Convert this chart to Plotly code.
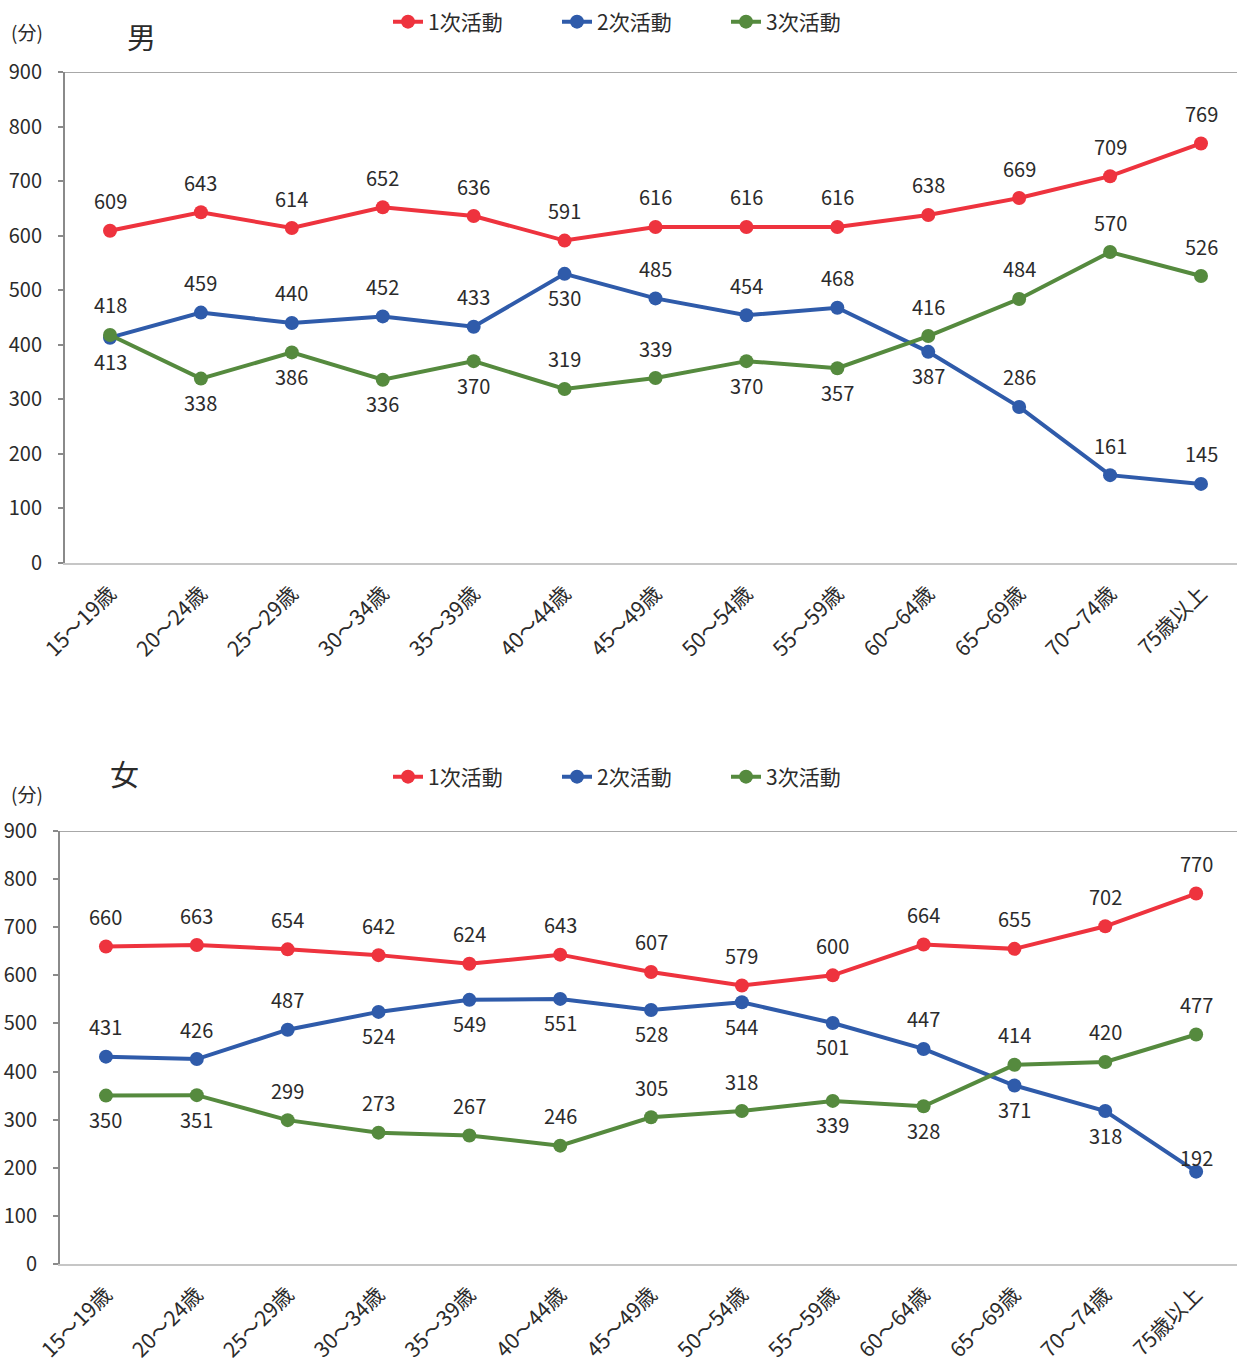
import plotly.graph_objects as go

# Age groups (category axis)
age_groups = ["15〜19歳", "20〜24歳", "25〜29歳", "30〜34歳", "35〜39歳", "40〜44歳",
              "45〜49歳", "50〜54歳", "55〜59歳", "60〜64歳", "65〜69歳", "70〜74歳", "75歳以上"]

series_names = ["1次活動", "2次活動", "3次活動"]

# Minutes per day, male
male_primary = [609, 643, 614, 652, 636, 591, 616, 616, 616, 638, 669, 709, 769]
male_secondary = [413, 459, 440, 452, 433, 530, 485, 454, 468, 387, 286, 161, 145]
male_tertiary = [418, 338, 386, 336, 370, 319, 339, 370, 357, 416, 484, 570, 526]

# Minutes per day, female
female_primary = [660, 663, 654, 642, 624, 643, 607, 579, 600, 664, 655, 702, 770]
female_secondary = [431, 426, 487, 524, 549, 551, 528, 544, 501, 447, 371, 318, 192]
female_tertiary = [350, 351, 299, 273, 267, 246, 305, 318, 339, 328, 414, 420, 477]

y_ticks = [0, 100, 200, 300, 400, 500, 600, 700, 800, 900]

# Label placement per point: "u" = above the marker, "d" = below, "c" = just above
male_sides = [
    ["u"] * 13,
    ["d", "u", "u", "u", "u", "d", "u", "u", "u", "d", "u", "u", "u"],
    ["u", "d", "d", "d", "d", "u", "u", "d", "d", "u", "u", "u", "u"],
]
female_sides = [
    ["u"] * 13,
    ["u", "u", "u", "d", "d", "d", "d", "d", "d", "u", "d", "d", "c"],
    ["d", "d", "u", "u", "u", "u", "u", "u", "d", "d", "u", "u", "u"],
]

colors = ["#EE333E", "#2F5BAA", "#558A3E"]
text_color = "#2b2b2b"
FONT = "Noto Sans CJK JP, Noto Sans, sans-serif"

W, H = 1237, 1362

fig = go.Figure()

panels = [
    dict(data=[male_primary, male_secondary, male_tertiary], sides=male_sides,
         xa="x", ya="y", legend="legend"),
    dict(data=[female_primary, female_secondary, female_tertiary], sides=female_sides,
         xa="x2", ya="y2", legend="legend2"),
]

shift_for = {"u": 30, "d": -24, "c": 14}
annotations = []
for p in panels:
    for name, vals, sides, color in zip(series_names, p["data"], p["sides"], colors):
        fig.add_trace(go.Scatter(
            x=age_groups, y=vals, name=name, mode="lines+markers",
            line=dict(color=color, width=4),
            marker=dict(color=color, size=14),
            xaxis=p["xa"], yaxis=p["ya"], legend=p["legend"],
            hoverinfo="x+y+name",
        ))
        for a, v, s in zip(age_groups, vals, sides):
            annotations.append(dict(
                x=a, y=v, xref=p["xa"], yref=p["ya"], text=str(v), showarrow=False,
                yshift=shift_for[s], font=dict(family=FONT, size=20, color=text_color),
            ))

# Panel titles and unit labels
def paper_label(text, px, py, size):
    return dict(text=text, x=px / W, y=1 - py / H, xref="paper", yref="paper",
                xanchor="center", yanchor="middle", showarrow=False,
                font=dict(family=FONT, size=size, color=text_color))

annotations += [
    paper_label("男", 141, 36, 29),
    paper_label("(分)", 27, 32, 19),
    paper_label("女", 124, 773, 29),
    paper_label("(分)", 27, 793, 19),
]

xaxis_common = dict(
    type="category", categoryorder="array", categoryarray=age_groups,
    showline=True, linecolor="#c6c6c6", linewidth=2, ticks="", showgrid=False,
    zeroline=False, tickangle=-45, ticklabelstandoff=8, automargin=False,
    tickfont=dict(family=FONT, size=21, color=text_color),
)
yaxis_common = dict(
    range=[0, 900], tickvals=y_ticks, showline=True, linecolor="#8a8a8a", linewidth=2,
    ticks="outside", ticklen=5, tickcolor="#8a8a8a", tickwidth=1.5, showgrid=False,
    zeroline=False, ticklabelstandoff=12, automargin=False,
    tickfont=dict(family=FONT, size=20, color=text_color),
)

# Top boundary line at 900 for each panel
shapes = [
    dict(type="line", xref="x domain", yref="y", x0=0, x1=1, y0=900, y1=900,
         line=dict(color="#a8a8a8", width=2)),
    dict(type="line", xref="x2 domain", yref="y2", x0=0, x1=1, y0=900, y1=900,
         line=dict(color="#a8a8a8", width=2)),
]

legend_common = dict(
    orientation="h", xanchor="left", yanchor="middle", bgcolor="rgba(0,0,0,0)",
    font=dict(family=FONT, size=21, color=text_color), itemwidth=30,
    entrywidth=124, entrywidthmode="pixels",
)

fig.update_layout(
    width=W, height=H, margin=dict(l=0, r=0, t=0, b=0, autoexpand=False),
    paper_bgcolor="white", plot_bgcolor="white",
    font=dict(family=FONT, color=text_color),
    xaxis=dict(xaxis_common, domain=[65 / W, 1], anchor="y", range=[-0.495, 12.396]),
    yaxis=dict(yaxis_common, domain=[1 - 563 / H, 1 - 72 / H], anchor="x"),
    xaxis2=dict(xaxis_common, domain=[60 / W, 1], anchor="y2", range=[-0.506, 12.45]),
    yaxis2=dict(yaxis_common, domain=[1 - 1264 / H, 1 - 831 / H], anchor="x2"),
    legend=dict(legend_common, x=388 / W, y=1 - 22 / H),
    legend2=dict(legend_common, x=388 / W, y=1 - 777 / H),
    annotations=annotations,
    shapes=shapes,
    showlegend=True,
)

fig.write_html("out.html")
